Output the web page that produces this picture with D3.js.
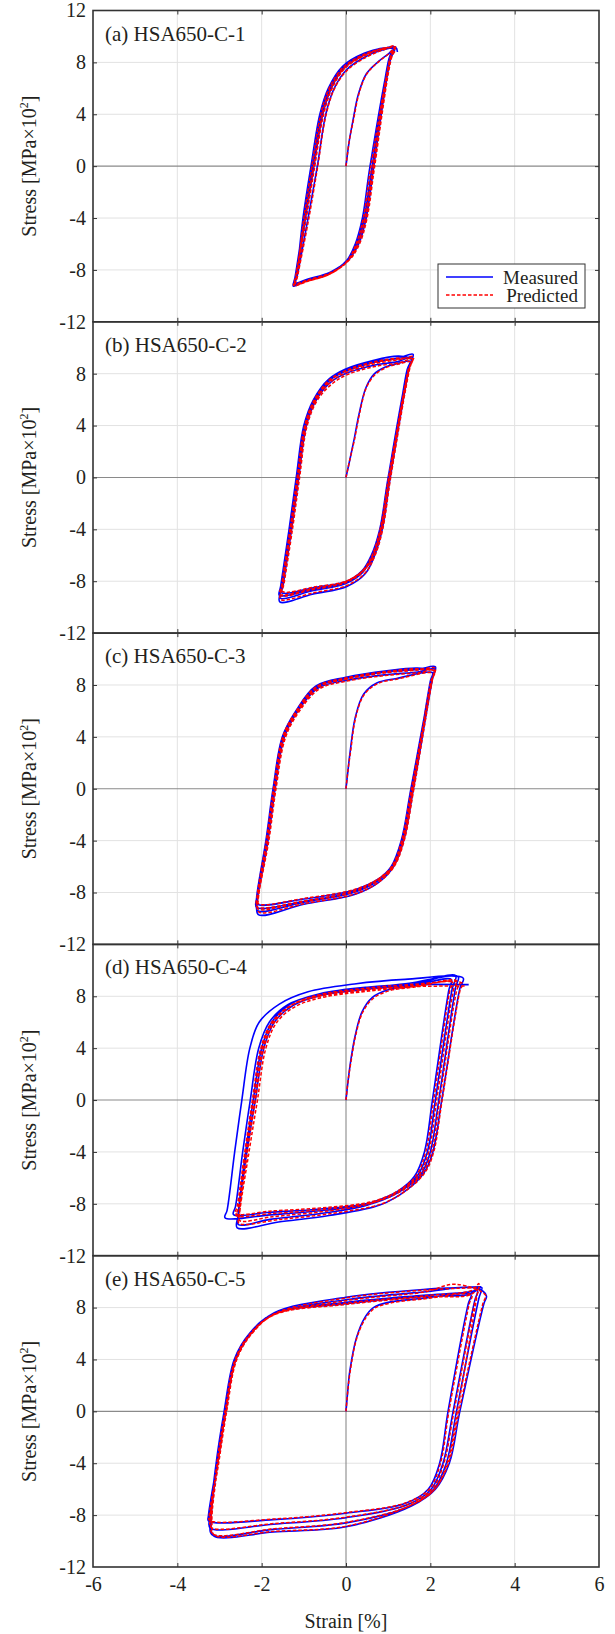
<!DOCTYPE html>
<html>
<head>
<meta charset="utf-8">
<script src="https://cdn.jsdelivr.net/npm/d3@7"></script>
<style>
  body { margin: 0; background: #fff; }
  svg text { font-family: "Liberation Serif", "Times New Roman", serif; fill: #231f20; }
</style>
</head>
<body>
<svg id="chart" width="615" height="1634"></svg>
<script>
// axis ticks
const xTickValues = [-6, -4, -2, 0, 2, 4, 6];
const yTickValues = [-12, -8, -4, 0, 4, 8, 12];
const panelLabels = ["(a) HSA650-C-1", "(b) HSA650-C-2", "(c) HSA650-C-3", "(d) HSA650-C-4", "(e) HSA650-C-5"];
const seriesNames = ["Measured", "Predicted"];

// [strain %, stress MPa x 10^2]
const measuredA = [
  [0,0],[0.08,2.0],[0.17,3.6],[0.29,5.5],[0.48,7.1],[0.78,8.1],[1.02,8.7],
  [1.10,8.95],[1.02,8.3],[0.62,0],[0.43,-4],[0.26,-6],[0.05,-7.2],[-0.38,-8.2],[-0.92,-8.75],[-1.20,-9.05],
  [-1.16,-8.5],[-0.90,-4],[-0.68,0],[-0.48,4],[-0.28,6],[0.02,7.45],[0.47,8.45],[0.86,8.95],
  [1.13,9.1],[1.04,8.4],[0.57,0],[0.39,-4],[0.22,-6],[0.01,-7.3],[-0.42,-8.3],[-0.95,-8.85],[-1.23,-9.15],
  [-1.19,-8.6],[-0.96,-4],[-0.76,0],[-0.55,4],[-0.35,6],[-0.04,7.6],[0.44,8.6],[0.88,9.05],
  [1.16,9.2],[1.07,8.5],[0.63,0],[0.44,-4],[0.26,-6],[0.04,-7.25],[-0.40,-8.25],[-0.94,-8.8],[-1.25,-9.25],
  [-1.21,-8.6],[-0.99,-4],[-0.79,0],[-0.58,4],[-0.38,6],[-0.05,7.65],[0.45,8.65],[0.90,9.1],
  [1.15,9.0],[1.06,8.3],[0.66,0],[0.48,-4],[0.30,-6],[0.08,-7.15],[-0.36,-8.15],[-0.90,-8.7],[-1.22,-9.0],
  [-1.18,-8.5],[-1.02,-4],[-0.83,0],[-0.62,4],[-0.42,6],[-0.08,7.7],[0.43,8.7],[0.90,9.1],[1.18,9.15],[1.22,8.8]
];
const predictedA = [
  [0,0],[0.08,2.0],[0.18,3.6],[0.30,5.5],[0.49,7.1],[0.79,8.1],[1.03,8.7],
  [1.12,9.0],[1.04,8.3],[0.64,0],[0.45,-4],[0.28,-6],[0.07,-7.25],[-0.37,-8.3],[-0.90,-8.85],[-1.19,-9.1],
  [-1.15,-8.5],[-0.88,-4],[-0.67,0],[-0.47,4],[-0.27,6],[0.03,7.4],[0.48,8.4],[0.88,8.95],
  [1.15,9.15],[1.06,8.4],[0.59,0],[0.41,-4],[0.24,-6],[0.03,-7.3],[-0.40,-8.35],[-0.93,-8.9],[-1.22,-9.2],
  [-1.18,-8.6],[-0.94,-4],[-0.74,0],[-0.53,4],[-0.33,6],[-0.02,7.55],[0.46,8.55],[0.90,9.05],
  [1.17,9.25],[1.08,8.5],[0.65,0],[0.46,-4],[0.28,-6],[0.05,-7.3],[-0.39,-8.3],[-0.93,-8.85],[-1.24,-9.2],
  [-1.20,-8.6],[-0.97,-4],[-0.77,0],[-0.56,4],[-0.36,6],[-0.03,7.6],[0.47,8.6],[0.92,9.1],
  [1.17,9.05],[1.08,8.35],[0.68,0],[0.50,-4],[0.32,-6],[0.09,-7.2],[-0.35,-8.2],[-0.89,-8.75],[-1.21,-9.05],
  [-1.17,-8.5],[-1.00,-4],[-0.81,0],[-0.60,4],[-0.40,6],[-0.06,7.65],[0.45,8.65],[0.92,9.1],[1.18,9.2]
];

const measuredB = [
  [0,0],[0.10,1.5],[0.19,2.9],[0.31,4.9],[0.47,6.9],[0.66,7.95],[0.92,8.5],[1.25,8.8],
  [1.52,8.95],[1.45,8.3],[1.04,0],[0.84,-4],[0.66,-6],[0.44,-7.1],[0.02,-8.0],[-0.78,-8.5],[-1.52,-8.9],
  [-1.49,-8.3],[-1.29,-4],[-1.12,0],[-0.94,4],[-0.70,6],[-0.34,7.4],[0.02,8.05],[0.66,8.65],[1.25,8.95],
  [1.57,9.3],[1.49,8.5],[1.02,0],[0.82,-4],[0.62,-6],[0.40,-7.3],[-0.02,-8.2],[-0.82,-8.75],[-1.56,-9.3],
  [-1.53,-8.5],[-1.32,-4],[-1.15,0],[-0.97,4],[-0.73,6],[-0.38,7.5],[0.0,8.2],[0.64,8.85],[1.25,9.2],
  [1.59,9.5],[1.51,8.6],[1.05,0],[0.86,-4],[0.68,-6],[0.46,-7.4],[0.02,-8.4],[-0.80,-9.0],[-1.57,-9.6],
  [-1.54,-8.6],[-1.33,-4],[-1.16,0],[-0.98,4],[-0.74,6],[-0.40,7.6],[-0.02,8.35],[0.62,9.0],[1.25,9.35],
  [1.55,9.1],[1.47,8.4],[1.00,0],[0.80,-4],[0.60,-6],[0.38,-7.2],[-0.04,-8.1],[-0.84,-8.65],[-1.58,-9.1],
  [-1.55,-8.4],[-1.35,-4],[-1.18,0],[-1.00,4],[-0.77,6],[-0.42,7.55],[-0.02,8.25],[0.62,8.9],[1.25,9.2],[1.58,9.3]
];
const predictedB = [
  [0,0],[0.10,1.5],[0.20,2.9],[0.32,4.9],[0.48,6.9],[0.68,7.9],[0.94,8.45],[1.25,8.75],
  [1.54,8.9],[1.47,8.25],[1.05,0],[0.85,-4],[0.67,-6],[0.45,-7.05],[0.04,-7.95],[-0.76,-8.45],[-1.50,-8.8],
  [-1.47,-8.2],[-1.27,-4],[-1.10,0],[-0.92,4],[-0.67,6],[-0.30,7.3],[0.05,7.95],[0.68,8.55],[1.28,8.85],
  [1.58,9.15],[1.50,8.4],[1.03,0],[0.83,-4],[0.64,-6],[0.42,-7.2],[0.0,-8.1],[-0.80,-8.65],[-1.54,-9.1],
  [-1.51,-8.4],[-1.30,-4],[-1.13,0],[-0.95,4],[-0.71,6],[-0.35,7.4],[0.02,8.1],[0.66,8.75],[1.28,9.1],
  [1.60,9.3],[1.52,8.5],[1.06,0],[0.87,-4],[0.69,-6],[0.47,-7.3],[0.04,-8.3],[-0.78,-8.9],[-1.55,-9.4],
  [-1.52,-8.5],[-1.31,-4],[-1.14,0],[-0.96,4],[-0.72,6],[-0.37,7.5],[0.0,8.25],[0.64,8.9],[1.30,9.2],
  [1.57,9.05],[1.49,8.35],[1.01,0],[0.81,-4],[0.62,-6],[0.40,-7.15],[-0.02,-8.05],[-0.82,-8.6],[-1.56,-9.0],
  [-1.53,-8.35],[-1.33,-4],[-1.16,0],[-0.98,4],[-0.75,6],[-0.40,7.5],[0.0,8.2],[0.64,8.85],[1.28,9.15],[1.58,9.2]
];

const measuredC = [
  [0,0],[0.05,1.5],[0.10,2.9],[0.22,5.5],[0.42,7.3],[0.73,8.15],[1.20,8.5],
  [2.05,8.95],[2.00,8.3],[1.58,0],[1.35,-4],[1.11,-6],[0.75,-7.0],[0.20,-7.8],[-1.0,-8.5],[-2.10,-8.9],
  [-2.09,-8.3],[-1.85,-4],[-1.68,0],[-1.46,4],[-1.14,6],[-0.67,7.75],[0.0,8.35],[0.97,8.8],[1.70,9.0],
  [2.10,9.25],[2.04,8.5],[1.56,0],[1.33,-4],[1.09,-6],[0.73,-7.15],[0.18,-8.0],[-1.0,-8.75],[-2.10,-9.4],
  [-2.10,-8.5],[-1.87,-4],[-1.70,0],[-1.48,4],[-1.16,6],[-0.69,7.85],[0.0,8.5],[0.97,9.0],[1.70,9.2],
  [2.12,9.4],[2.06,8.6],[1.60,0],[1.37,-4],[1.13,-6],[0.76,-7.25],[0.20,-8.15],[-1.0,-8.9],[-2.08,-9.7],
  [-2.10,-8.6],[-1.88,-4],[-1.71,0],[-1.49,4],[-1.17,6],[-0.70,7.95],[0.0,8.6],[0.97,9.1],[1.70,9.3],
  [2.09,9.1],[2.03,8.4],[1.54,0],[1.31,-4],[1.07,-6],[0.71,-7.1],[0.16,-7.95],[-1.02,-8.7],[-2.12,-9.15],
  [-2.12,-8.4],[-1.90,-4],[-1.73,0],[-1.51,4],[-1.19,6],[-0.72,7.9],[-0.02,8.55],[0.95,9.05],[1.68,9.25],[2.06,9.2]
];
const predictedC = [
  [0,0],[0.05,1.5],[0.11,2.9],[0.23,5.5],[0.43,7.25],[0.75,8.1],[1.20,8.45],
  [2.07,8.9],[2.01,8.25],[1.59,0],[1.36,-4],[1.12,-6],[0.77,-6.95],[0.22,-7.75],[-0.98,-8.45],[-2.08,-8.85],
  [-2.07,-8.2],[-1.83,-4],[-1.66,0],[-1.43,4],[-1.10,6],[-0.63,7.7],[0.02,8.3],[0.99,8.75],[1.72,8.95],
  [2.11,9.15],[2.05,8.45],[1.58,0],[1.35,-4],[1.10,-6],[0.75,-7.1],[0.20,-7.95],[-0.99,-8.7],[-2.09,-9.25],
  [-2.09,-8.45],[-1.85,-4],[-1.68,0],[-1.46,4],[-1.13,6],[-0.66,7.8],[0.01,8.45],[0.98,8.95],[1.72,9.15],
  [2.12,9.3],[2.06,8.55],[1.61,0],[1.38,-4],[1.14,-6],[0.78,-7.2],[0.22,-8.1],[-0.98,-8.85],[-2.07,-9.5],
  [-2.08,-8.55],[-1.86,-4],[-1.69,0],[-1.47,4],[-1.15,6],[-0.68,7.9],[0.01,8.55],[0.98,9.05],[1.72,9.25],
  [2.10,9.05],[2.04,8.35],[1.55,0],[1.32,-4],[1.08,-6],[0.72,-7.05],[0.17,-7.9],[-1.0,-8.65],[-2.11,-9.1],
  [-2.11,-8.35],[-1.89,-4],[-1.72,0],[-1.50,4],[-1.18,6],[-0.71,7.85],[0.0,8.5],[0.96,9.0],[1.70,9.2],[2.08,9.15]
];

const measuredD = [
  [0,0],[0.05,1.5],[0.12,3.2],[0.22,5.0],[0.38,6.8],[0.62,7.9],[1.0,8.5],[1.6,8.8],
  [2.50,9.3],[2.44,8.5],[2.05,0],[1.86,-4],[1.62,-5.9],[1.22,-7.05],[0.5,-8.1],[-0.6,-8.75],[-1.8,-9.2],[-2.55,-9.6],
  [-2.55,-8.8],[-2.35,-4],[-2.15,0],[-1.95,4],[-1.70,6],[-1.25,7.3],[-0.55,8.1],[0.5,8.55],[1.6,8.9],
  [2.60,9.6],[2.52,8.6],[2.12,0],[1.93,-4],[1.70,-5.8],[1.30,-6.9],[0.6,-7.9],[-0.6,-8.4],[-1.8,-8.65],[-2.67,-8.82],
  [-2.62,-8.2],[-2.45,-4],[-2.27,0],[-2.07,4],[-1.82,6],[-1.38,7.35],[-0.7,8.1],[0.4,8.6],[1.5,9.0],
  [2.66,9.5],[2.60,8.7],[2.20,0],[2.00,-4],[1.78,-5.7],[1.38,-6.85],[0.7,-7.9],[-0.5,-8.5],[-1.8,-8.85],[-2.87,-9.07],
  [-2.82,-8.5],[-2.64,-4],[-2.47,0],[-2.28,4],[-2.06,6],[-1.58,7.4],[-0.9,8.35],[0.2,8.95],[1.4,9.3],
  [2.78,9.4],[2.70,8.6],[2.27,0],[2.06,-4],[1.85,-5.6],[1.45,-6.9],[0.8,-8.1],[-0.4,-8.9],[-1.6,-9.4],[-2.58,-9.85],
  [-2.56,-8.9],[-2.38,-4],[-2.20,0],[-2.00,4],[-1.76,6],[-1.32,7.4],[-0.62,8.2],[0.5,8.7],[1.6,8.9],[2.91,8.9]
];
const predictedD = [
  [0,0],[0.05,1.5],[0.13,3.2],[0.23,5.0],[0.40,6.8],[0.65,7.85],[1.05,8.45],[1.6,8.7],
  [2.52,9.1],[2.46,8.4],[2.08,0],[1.89,-4],[1.66,-5.85],[1.26,-6.95],[0.55,-8.0],[-0.55,-8.6],[-1.75,-9.0],[-2.52,-9.3],
  [-2.52,-8.7],[-2.30,-4],[-2.10,0],[-1.90,4],[-1.64,6],[-1.18,7.25],[-0.5,7.95],[0.55,8.4],[1.6,8.75],
  [2.62,9.2],[2.55,8.5],[2.15,0],[1.96,-4],[1.74,-5.75],[1.34,-6.85],[0.65,-7.8],[-0.55,-8.3],[-1.75,-8.55],[-2.62,-8.75],
  [-2.58,-8.2],[-2.40,-4],[-2.22,0],[-2.02,4],[-1.76,6],[-1.30,7.3],[-0.62,8.0],[0.45,8.45],[1.55,8.8],
  [2.70,9.1],[2.63,8.5],[2.22,0],[2.03,-4],[1.81,-5.65],[1.42,-6.8],[0.75,-7.8],[-0.45,-8.4],[-1.75,-8.75],[-2.60,-8.9],
  [-2.56,-8.4],[-2.38,-4],[-2.18,0],[-1.98,4],[-1.74,6],[-1.28,7.35],[-0.6,8.15],[0.4,8.6],[1.5,8.9],
  [2.76,9.0],[2.70,8.4],[2.28,0],[2.08,-4],[1.88,-5.55],[1.48,-6.85],[0.85,-8.0],[-0.35,-8.75],[-1.55,-9.2],[-2.54,-9.5],
  [-2.53,-8.8],[-2.34,-4],[-2.15,0],[-1.95,4],[-1.70,6],[-1.26,7.35],[-0.55,8.1],[0.55,8.55],[1.65,8.75],[2.85,8.8]
];

const measuredE = [
  [0,0],[0.04,1.5],[0.09,3.1],[0.25,5.7],[0.45,7.25],[0.65,8.0],[1.0,8.4],[1.8,8.7],
  [2.96,9.0],[2.90,8.3],[2.42,0],[2.22,-4],[1.95,-6],[1.40,-7.1],[0,-7.85],[-1.72,-8.35],[-3.26,-8.45],
  [-3.26,-8.0],[-3.06,-4],[-2.87,0],[-2.63,4],[-2.27,6],[-1.72,7.5],[0,8.3],[1.83,8.85],[2.90,9.0],
  [3.12,9.3],[3.05,8.5],[2.54,0],[2.30,-4],[2.02,-6],[1.46,-7.2],[0,-8.2],[-1.72,-8.7],[-3.22,-9.0],
  [-3.24,-8.3],[-3.04,-4],[-2.85,0],[-2.61,4],[-2.25,6],[-1.70,7.55],[0,8.4],[1.83,8.95],[3.0,9.25],
  [3.22,9.55],[3.15,8.7],[2.62,0],[2.38,-4],[2.08,-6],[1.52,-7.3],[0,-8.6],[-1.72,-9.1],[-3.18,-9.5],
  [-3.22,-8.5],[-3.08,-4],[-2.89,0],[-2.65,4],[-2.29,6],[-1.74,7.5],[0,8.6],[1.83,9.2],[3.1,9.5],
  [3.33,8.9],[3.27,8.3],[2.70,0],[2.45,-4],[2.12,-6],[1.55,-7.3],[0,-8.9],[-1.72,-9.3],[-3.14,-9.6],
  [-3.20,-8.6],[-3.05,-4],[-2.86,0],[-2.62,4],[-2.26,6],[-1.70,7.6],[0,8.8],[1.83,9.4],[3.2,9.6]
];
const predictedE = [
  [0,0],[0.04,1.5],[0.10,3.1],[0.26,5.7],[0.47,7.2],[0.68,7.95],[1.05,8.35],[1.8,8.65],
  [2.98,8.95],[2.92,8.25],[2.44,0],[2.24,-4],[1.97,-6],[1.42,-7.05],[0.02,-7.8],[-1.70,-8.3],[-3.24,-8.4],
  [-3.24,-7.95],[-3.04,-4],[-2.85,0],[-2.61,4],[-2.25,6],[-1.70,7.45],[0.02,8.25],[1.85,8.8],[2.92,8.95],
  [3.14,9.4],[3.07,8.6],[2.56,0],[2.32,-4],[2.04,-6],[1.48,-7.15],[0.02,-8.15],[-1.70,-8.65],[-3.20,-8.95],
  [-3.22,-8.25],[-3.02,-4],[-2.83,0],[-2.59,4],[-2.23,6],[-1.68,7.5],[0.02,8.35],[1.85,8.9],[3.0,9.35],
  [3.15,9.85],[3.10,8.8],[2.64,0],[2.40,-4],[2.10,-6],[1.54,-7.25],[0.02,-8.55],[-1.70,-9.05],[-3.16,-9.45],
  [-3.20,-8.45],[-3.06,-4],[-2.87,0],[-2.63,4],[-2.27,6],[-1.72,7.45],[0.02,8.55],[1.85,9.2],[2.6,9.8],
  [3.31,8.95],[3.25,8.35],[2.68,0],[2.43,-4],[2.10,-6],[1.53,-7.25],[0.02,-8.85],[-1.70,-9.25],[-3.12,-9.55],
  [-3.18,-8.55],[-3.03,-4],[-2.84,0],[-2.60,4],[-2.24,6],[-1.68,7.55],[0.02,8.75],[1.85,9.35],[3.18,9.55]
];

const measuredSets = [measuredA, measuredB, measuredC, measuredD, measuredE];
const predictedSets = [predictedA, predictedB, predictedC, predictedD, predictedE];

const margin = {left: 93, right: 16, top: 10.5};
const panelH = 311.3;
const width = 615;
const svg = d3.select("#chart");

const x = d3.scaleLinear().domain([-6, 6]).range([margin.left, width - margin.right]);

const line = d3.line().curve(d3.curveCatmullRom.alpha(0.5));

panelLabels.forEach((label, i) => {
  const top = margin.top + i * panelH;
  const y = d3.scaleLinear().domain([-12, 12]).range([top + panelH, top]);
  const g = svg.append("g");

  // grid
  g.selectAll(".vgrid")
    .data(xTickValues.filter(d => d !== 0 && Math.abs(d) !== 6))
    .join("line")
    .attr("x1", d => x(d)).attr("x2", d => x(d))
    .attr("y1", top).attr("y2", top + panelH)
    .attr("stroke", "#e2e2e2").attr("stroke-width", 1);
  g.selectAll(".hgrid")
    .data(yTickValues.filter(d => d !== 0 && Math.abs(d) !== 12))
    .join("line")
    .attr("x1", x(-6)).attr("x2", x(6))
    .attr("y1", d => y(d)).attr("y2", d => y(d))
    .attr("stroke", "#e2e2e2").attr("stroke-width", 1);

  // zero lines
  g.append("line")
    .attr("x1", x(0)).attr("x2", x(0)).attr("y1", top).attr("y2", top + panelH)
    .attr("stroke", "#8a8a8a").attr("stroke-width", 1.1);
  g.append("line")
    .attr("x1", x(-6)).attr("x2", x(6)).attr("y1", y(0)).attr("y2", y(0))
    .attr("stroke", "#8a8a8a").attr("stroke-width", 1.1);

  line.x(d => x(d[0])).y(d => y(d[1]));

  g.append("path")
    .datum(measuredSets[i])
    .attr("d", line)
    .attr("fill", "none")
    .attr("stroke", "#0000ff")
    .attr("stroke-width", 1.6);

  g.append("path")
    .datum(predictedSets[i])
    .attr("d", line)
    .attr("fill", "none")
    .attr("stroke", "#ff0000")
    .attr("stroke-width", 1.5)
    .attr("stroke-dasharray", "3.5,2");

  // axes, ticks pointing in
  const leftAxis = d3.axisLeft(y)
    .tickValues(i === 0 ? yTickValues : yTickValues.filter(d => d !== 12))
    .tickSizeInner(-4).tickSizeOuter(0).tickPadding(7)
    .tickFormat(d => String(d));
  const gl = g.append("g").attr("transform", `translate(${x(-6)},0)`).call(leftAxis);

  const gr = g.append("g").attr("transform", `translate(${x(6)},0)`)
    .call(d3.axisRight(y).tickValues(yTickValues.slice(1, -1)).tickSizeInner(-4).tickSizeOuter(0).tickFormat(""));

  const gt = g.append("g").attr("transform", `translate(0,${top})`)
    .call(d3.axisTop(x).tickValues(xTickValues.slice(1, -1)).tickSizeInner(-4).tickSizeOuter(0).tickFormat(""));

  const gb = g.append("g").attr("transform", `translate(0,${top + panelH})`)
    .call(d3.axisBottom(x).tickValues(i === 4 ? xTickValues : xTickValues.slice(1, -1))
      .tickSizeInner(-4).tickSizeOuter(0).tickPadding(10)
      .tickFormat(i === 4 ? (d => String(d)) : ""));
  if (i === 4) gb.selectAll(".tick line").filter(d => Math.abs(d) === 6).remove();

  [gl, gr, gt, gb].forEach(a => {
    a.attr("font-family", null);
    a.select(".domain").remove();
    a.selectAll(".tick line").attr("stroke", "#333");
    a.selectAll("text").attr("font-size", 20).attr("fill", "#231f20")
      .style("font-family", '"Liberation Serif", "Times New Roman", serif');
  });
  gl.selectAll(".tick line").filter(d => Math.abs(d) === 12).remove();

  // frame
  g.append("rect")
    .attr("x", x(-6)).attr("y", top)
    .attr("width", x(6) - x(-6)).attr("height", panelH)
    .attr("fill", "none").attr("stroke", "#333").attr("stroke-width", 1.6);

  // panel label
  g.append("text")
    .attr("x", 105).attr("y", top + 30)
    .attr("font-size", 21)
    .text(label);

  // y label
  const yl = g.append("text")
    .attr("transform", `translate(36,${top + panelH / 2}) rotate(-90)`)
    .attr("text-anchor", "middle")
    .attr("font-size", 20);
  yl.append("tspan").text("Stress [MPa×10");
  yl.append("tspan").attr("font-size", 12).attr("dy", -8).text("2");
  yl.append("tspan").attr("dy", 8).text("]");

  // legend in first panel
  if (i === 0) {
    const lg = g.append("g");
    lg.append("rect")
      .attr("x", 438).attr("y", top + 253.5).attr("width", 147).attr("height", 44)
      .attr("fill", "#fff").attr("stroke", "#333").attr("stroke-width", 1);
    seriesNames.forEach((name, k) => {
      const ly = top + 266.5 + k * 18;
      lg.append("line")
        .attr("x1", 446).attr("x2", 493).attr("y1", ly).attr("y2", ly)
        .attr("stroke", k === 0 ? "#0000ff" : "#ff0000")
        .attr("stroke-width", 1.5)
        .attr("stroke-dasharray", k === 0 ? null : "3.5,2");
      lg.append("text")
        .attr("x", 578).attr("y", ly + 6.5)
        .attr("text-anchor", "end")
        .attr("font-size", 19)
        .text(name);
    });
  }
});

// x label
svg.append("text")
  .attr("x", x(0)).attr("y", 1628)
  .attr("text-anchor", "middle")
  .attr("font-size", 20)
  .text("Strain [%]");
</script>
</body>
</html>
